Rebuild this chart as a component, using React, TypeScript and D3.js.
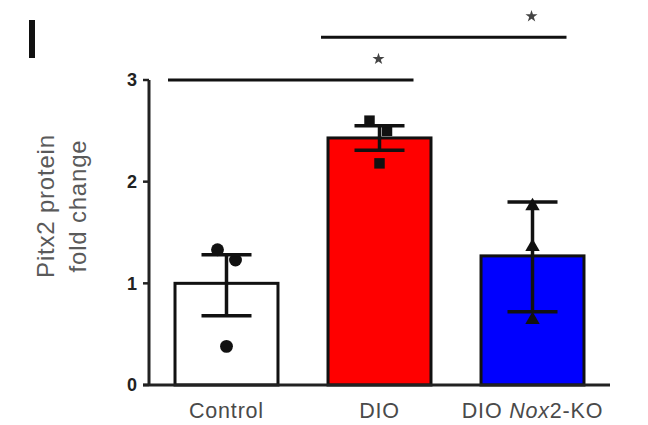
import React from "react";
import * as d3 from "d3";

const groups = ["Control", "DIO", "DIO Nox2-KO"];
const means = [1.0, 2.43, 1.27];
const errHigh = [1.28, 2.55, 1.8];
const errLow = [0.68, 2.31, 0.72];
const fills = ["#ffffff", "#ff0000", "#0000ff"];
const shapes = ["circle", "square", "triangle"];
// individual points: [group index, offset within bar (-1..1), value]
const points: [number, number, number][] = [
  [0, -0.18, 1.33], [0, 0.18, 1.23], [0, 0, 0.38],
  [1, -0.2, 2.6], [1, 0.15, 2.5], [1, 0, 2.18],
  [2, 0, 1.76], [2, 0, 1.36], [2, 0, 0.64],
];
const yTicks = [0, 1, 2, 3];
// significance brackets: [from group, to group, level]
const sigs: [number, number, number][] = [
  [0, 1, 3.0],
  [1, 2, 3.42],
];

export default function App() {
  const width = 648;
  const height = 425;
  const x0 = 149;
  const x1 = 610;
  const font = "Liberation Sans, Arial, sans-serif";

  const y = d3.scaleLinear().domain([0, 3]).range([385, 80]);
  const x = d3.scaleBand<string>()
    .domain(groups)
    .range([x0, x1])
    .paddingInner(0.327)
    .paddingOuter(0.17);
  const bw = x.bandwidth();
  const cx = (i: number) => (x(groups[i]) as number) + bw / 2;

  const sym = (s: string) => {
    if (s === "square") return d3.symbol(d3.symbolSquare, 110)();
    if (s === "triangle") return d3.symbol(d3.symbolTriangle, 90)();
    return d3.symbol(d3.symbolCircle, 130)();
  };
  const star = d3.symbol(d3.symbolStar, 45)() as string;

  return (
    <svg width={width} height={height} style={{ position: "absolute", left: 0, top: 0, background: "#fff" }}>
      <rect x={29} y={20} width={6} height={38} fill="#111" />

      {/* bars */}
      {groups.map((g, i) => (
        <rect key={g} x={x(g)} y={y(means[i])} width={bw} height={y(0) - y(means[i])}
          fill={fills[i]} stroke="#111" strokeWidth={3} />
      ))}

      {/* points */}
      {points.map(([gi, off, v], k) => (
        <path key={k} d={sym(shapes[gi]) as string}
          transform={`translate(${cx(gi) + off * 50},${y(v)})`} fill="#111" />
      ))}

      {/* error bars */}
      {groups.map((g, i) => (
        <g key={g} stroke="#111" strokeWidth={3.5}>
          <line x1={cx(i)} x2={cx(i)} y1={y(errHigh[i])} y2={y(errLow[i])} />
          <line x1={cx(i) - 25} x2={cx(i) + 25} y1={y(errHigh[i])} y2={y(errHigh[i])} />
          <line x1={cx(i) - 25} x2={cx(i) + 25} y1={y(errLow[i])} y2={y(errLow[i])} />
        </g>
      ))}

      {/* axes */}
      <line x1={x0} x2={x0} y1={y(3)} y2={y(0)} stroke="#222" strokeWidth={3} />
      <line x1={x0 - 6} x2={x1} y1={y(0)} y2={y(0)} stroke="#222" strokeWidth={3} />
      {yTicks.map((t) => (
        <g key={t}>
          <line x1={x0 - 6} x2={x0} y1={y(t)} y2={y(t)} stroke="#222" strokeWidth={2.5} />
          <text x={x0 - 12} y={y(t)} dy="0.36em" textAnchor="end" fontFamily={font}
            fontWeight="bold" fontSize={18} fill="#222">{t}</text>
        </g>
      ))}

      {/* y title */}
      <g transform="translate(0,206) rotate(-90)" fontFamily={font} fontSize={24} fill="#5a5a5a"
        textAnchor="middle" letterSpacing={0.8}>
        <text y={54}>Pitx2 protein</text>
        <text y={86}>fold change</text>
      </g>

      {/* x labels */}
      {groups.map((g, i) => (
        <text key={g} x={cx(i)} y={418} textAnchor="middle" fontFamily={font}
          fontSize={21.5} fill="#4a4a4a" letterSpacing={0.8}>
          {g === "DIO Nox2-KO" ? (
            <>DIO <tspan fontStyle="italic">Nox</tspan>2-KO</>
          ) : g}
        </text>
      ))}

      {/* significance */}
      {sigs.map(([a, b, lvl], k) => {
        const xa = (x(groups[a]) as number) - 7;
        const xb = cx(b) + 34;
        return (
          <g key={k}>
            <line x1={xa} x2={xb} y1={y(lvl)} y2={y(lvl)} stroke="#111" strokeWidth={3} />
            <path d={star} transform={`translate(${cx(b) - 1},${y(lvl) - 21})`} fill="#444" />
          </g>
        );
      })}
    </svg>
  );
}
